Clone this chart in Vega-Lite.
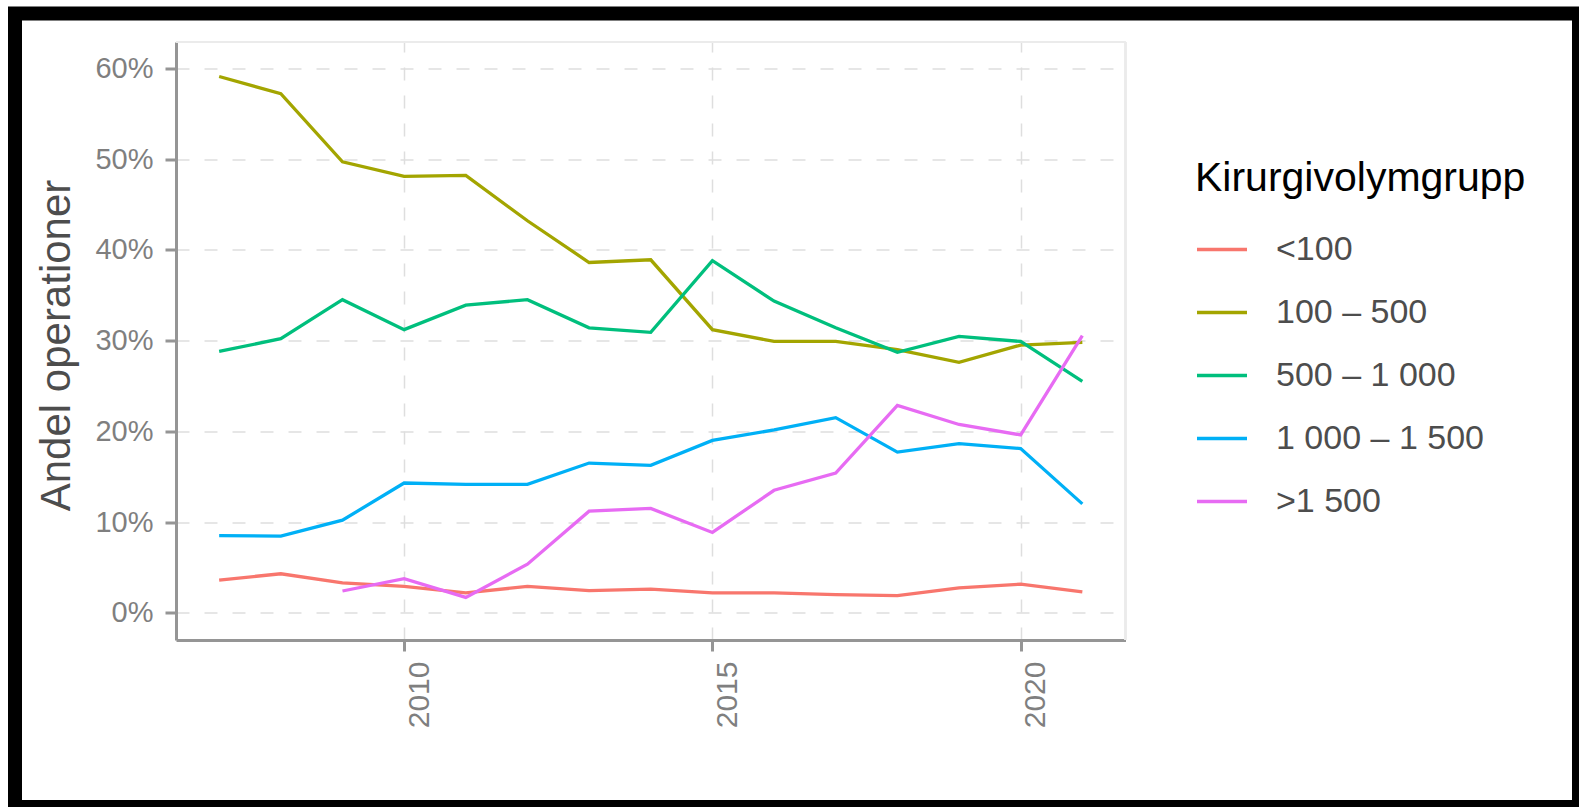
{
  "$schema": "https://vega.github.io/schema/vega-lite/v6.json",
  "autosize": {"type": "none"},
  "width": 1564,
  "height": 793.5,
  "padding": {"left": 15, "top": 13.5, "right": 0, "bottom": 0},
  "background": "white",
  "config": {
    "view": {"stroke": "black", "strokeWidth": 14, "fill": "white"},
    "font": "Liberation Sans"
  },
  "data": {
    "values": [
      {"year": 2007, "group": "<100", "share": 3.6},
      {"year": 2008, "group": "<100", "share": 4.3},
      {"year": 2009, "group": "<100", "share": 3.3},
      {"year": 2010, "group": "<100", "share": 2.9},
      {"year": 2011, "group": "<100", "share": 2.2},
      {"year": 2012, "group": "<100", "share": 2.9},
      {"year": 2013, "group": "<100", "share": 2.45},
      {"year": 2014, "group": "<100", "share": 2.6},
      {"year": 2015, "group": "<100", "share": 2.2},
      {"year": 2016, "group": "<100", "share": 2.2},
      {"year": 2017, "group": "<100", "share": 2.0},
      {"year": 2018, "group": "<100", "share": 1.9},
      {"year": 2019, "group": "<100", "share": 2.75},
      {"year": 2020, "group": "<100", "share": 3.15},
      {"year": 2021, "group": "<100", "share": 2.3},
      {"year": 2007, "group": "100 – 500", "share": 59.1},
      {"year": 2008, "group": "100 – 500", "share": 57.2},
      {"year": 2009, "group": "100 – 500", "share": 49.7},
      {"year": 2010, "group": "100 – 500", "share": 48.1},
      {"year": 2011, "group": "100 – 500", "share": 48.2},
      {"year": 2012, "group": "100 – 500", "share": 43.2},
      {"year": 2013, "group": "100 – 500", "share": 38.6},
      {"year": 2014, "group": "100 – 500", "share": 38.9},
      {"year": 2015, "group": "100 – 500", "share": 31.2},
      {"year": 2016, "group": "100 – 500", "share": 29.9},
      {"year": 2017, "group": "100 – 500", "share": 29.9},
      {"year": 2018, "group": "100 – 500", "share": 29.0},
      {"year": 2019, "group": "100 – 500", "share": 27.6},
      {"year": 2020, "group": "100 – 500", "share": 29.5},
      {"year": 2021, "group": "100 – 500", "share": 29.8},
      {"year": 2007, "group": "500 – 1 000", "share": 28.8},
      {"year": 2008, "group": "500 – 1 000", "share": 30.2},
      {"year": 2009, "group": "500 – 1 000", "share": 34.5},
      {"year": 2010, "group": "500 – 1 000", "share": 31.2},
      {"year": 2011, "group": "500 – 1 000", "share": 33.9},
      {"year": 2012, "group": "500 – 1 000", "share": 34.5},
      {"year": 2013, "group": "500 – 1 000", "share": 31.4},
      {"year": 2014, "group": "500 – 1 000", "share": 30.9},
      {"year": 2015, "group": "500 – 1 000", "share": 38.8},
      {"year": 2016, "group": "500 – 1 000", "share": 34.35},
      {"year": 2017, "group": "500 – 1 000", "share": 31.4},
      {"year": 2018, "group": "500 – 1 000", "share": 28.7},
      {"year": 2019, "group": "500 – 1 000", "share": 30.45},
      {"year": 2020, "group": "500 – 1 000", "share": 29.9},
      {"year": 2021, "group": "500 – 1 000", "share": 25.5},
      {"year": 2007, "group": "1 000 – 1 500", "share": 8.5},
      {"year": 2008, "group": "1 000 – 1 500", "share": 8.45},
      {"year": 2009, "group": "1 000 – 1 500", "share": 10.2},
      {"year": 2010, "group": "1 000 – 1 500", "share": 14.3},
      {"year": 2011, "group": "1 000 – 1 500", "share": 14.15},
      {"year": 2012, "group": "1 000 – 1 500", "share": 14.15},
      {"year": 2013, "group": "1 000 – 1 500", "share": 16.5},
      {"year": 2014, "group": "1 000 – 1 500", "share": 16.25},
      {"year": 2015, "group": "1 000 – 1 500", "share": 19.0},
      {"year": 2016, "group": "1 000 – 1 500", "share": 20.15},
      {"year": 2017, "group": "1 000 – 1 500", "share": 21.5},
      {"year": 2018, "group": "1 000 – 1 500", "share": 17.7},
      {"year": 2019, "group": "1 000 – 1 500", "share": 18.65},
      {"year": 2020, "group": "1 000 – 1 500", "share": 18.1},
      {"year": 2021, "group": "1 000 – 1 500", "share": 12.0},
      {"year": 2009, "group": ">1 500", "share": 2.4},
      {"year": 2010, "group": ">1 500", "share": 3.75},
      {"year": 2011, "group": ">1 500", "share": 1.7},
      {"year": 2012, "group": ">1 500", "share": 5.35},
      {"year": 2013, "group": ">1 500", "share": 11.2},
      {"year": 2014, "group": ">1 500", "share": 11.5},
      {"year": 2015, "group": ">1 500", "share": 8.85},
      {"year": 2016, "group": ">1 500", "share": 13.5},
      {"year": 2017, "group": ">1 500", "share": 15.4},
      {"year": 2018, "group": ">1 500", "share": 22.85},
      {"year": 2019, "group": ">1 500", "share": 20.75},
      {"year": 2020, "group": ">1 500", "share": 19.6},
      {"year": 2021, "group": ">1 500", "share": 30.55}
    ]
  },
  "resolve": {"axis": {"x": "independent"}},
  "layer": [
    {
      "mark": {"type": "rule", "color": "#EBEBEB", "strokeWidth": 1.5},
      "encoding": {
        "x": {
          "datum": 2006.3,
          "type": "quantitative",
          "axis": {
            "orient": "top",
            "values": [2010, 2015, 2020],
            "grid": true,
            "domain": false,
            "ticks": false,
            "labels": false,
            "title": null,
            "gridColor": "#DEDEDE",
            "gridWidth": 1.5,
            "gridDash": [13, 15]
          }
        },
        "x2": {"datum": 2021.7},
        "y": {"datum": 62.9, "type": "quantitative"}
      }
    },
    {
      "mark": {"type": "line", "strokeWidth": 3.3},
      "encoding": {
        "x": {
          "field": "year",
          "type": "quantitative",
          "scale": {"domain": [2006.3, 2021.7], "range": [161, 1110.5], "nice": false, "zero": false},
          "axis": {
            "orient": "bottom",
            "values": [2010, 2015, 2020],
            "format": "d",
            "title": null,
            "labelAngle": -90,
            "labelAlign": "right",
            "labelBaseline": "top",
            "labelFont": "Liberation Sans",
            "labelFontSize": 30,
            "labelColor": "#7f7f7f",
            "labelPadding": 10,
            "labelFlush": false,
            "labelOverlap": false,
            "tickSize": 11,
            "tickWidth": 3,
            "tickColor": "#959595",
            "domainColor": "#959595",
            "domainWidth": 3,
            "offset": -167,
            "grid": false
          }
        },
        "y": {
          "field": "share",
          "type": "quantitative",
          "scale": {"domain": [-3.0, 62.9], "range": [626.5, 28.5], "nice": false, "zero": false},
          "axis": {
            "values": [0, 10, 20, 30, 40, 50, 60],
            "labelExpr": "datum.value + '%'",
            "title": "Andel operationer",
            "titleFont": "Liberation Sans",
            "titleFontSize": 42,
            "titleFontWeight": "normal",
            "titleColor": "#4d4d4d",
            "titleX": -119.5,
            "titleY": 331.5,
            "titleAngle": -90,
            "titleAlign": "center",
            "titleBaseline": "middle",
            "titleLimit": 1000,
            "labelFont": "Liberation Sans",
            "labelFontSize": 29,
            "labelColor": "#7f7f7f",
            "labelPadding": 12,
            "labelFlush": false,
            "labelOverlap": false,
            "tickSize": 11,
            "tickWidth": 3,
            "tickColor": "#959595",
            "domainColor": "#959595",
            "domainWidth": 3,
            "offset": -161,
            "grid": true,
            "gridColor": "#DEDEDE",
            "gridWidth": 1.5,
            "gridDash": [13, 15]
          }
        },
        "color": {
          "field": "group",
          "type": "nominal",
          "scale": {
            "domain": ["<100", "100 – 500", "500 – 1 000", "1 000 – 1 500", ">1 500"],
            "range": ["#F8766D", "#A3A500", "#00BF7D", "#00B0F6", "#E76BF3"]
          },
          "legend": {
            "orient": "none",
            "legendX": 1180,
            "legendY": 145,
            "padding": 0,
            "title": "Kirurgivolymgrupp",
            "titleFont": "Liberation Sans",
            "titleFontSize": 41,
            "titleFontWeight": "normal",
            "titleColor": "black",
            "titlePadding": 23,
            "titleLimit": 1000,
            "labelFont": "Liberation Sans",
            "labelFontSize": 34,
            "labelColor": "#4d4d4d",
            "labelOffset": 27,
            "labelLimit": 1000,
            "symbolType": "stroke",
            "symbolSize": 2500,
            "symbolStrokeWidth": 3.3,
            "rowPadding": 19
          }
        }
      }
    },
    {
      "mark": {"type": "rule", "color": "#EBEBEB", "strokeWidth": 1.5},
      "encoding": {
        "x": {"datum": 2021.7, "type": "quantitative", "axis": null},
        "y": {"datum": -3.0, "type": "quantitative"},
        "y2": {"datum": 62.9}
      }
    }
  ]
}
